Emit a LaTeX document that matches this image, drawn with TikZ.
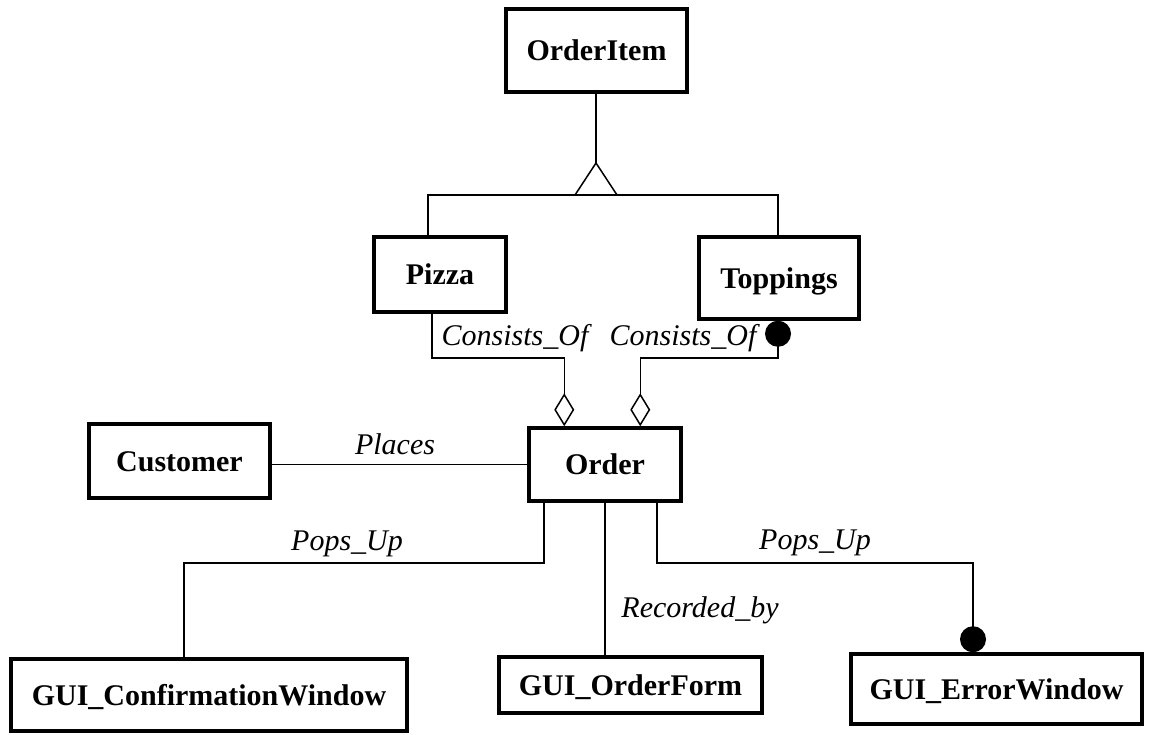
\documentclass[tikz,border=0pt]{standalone}
\usepackage{fontspec}
\setmainfont{Liberation Serif}
\usetikzlibrary{arrows.meta,calc}

\tikzset{
  classbox/.style={draw, line width=3.5pt, inner sep=0pt, anchor=center,
    font=\bfseries\fontsize{30}{36}\selectfont, text height=20pt, text depth=0pt},
  conn/.style={line width=1.5pt},
  rolelabel/.style={anchor=base, inner sep=0pt, font=\itshape\fontsize{30}{36}\selectfont},
  agg/.style={conn, -{Diamond[open, length=33pt, width=20pt, line width=1.5pt]}},
  dot/.style={Circle[length=26pt]}
}

\begin{document}
\begin{tikzpicture}[x=1pt, y=-1pt]
  \useasboundingbox (0,0) rectangle (1155,735);

  % classes
  \node[classbox, minimum width=181pt, minimum height=83pt] (OrderItem) at (596.5,50.5) {OrderItem};
  \node[classbox, minimum width=132pt, minimum height=75pt] (Pizza) at (440,274.5) {Pizza};
  \node[classbox, minimum width=160pt, minimum height=82pt] (Toppings) at (779,278) {Toppings};
  \node[classbox, minimum width=181pt, minimum height=74pt] (Customer) at (179.5,461) {Customer};
  \node[classbox, minimum width=152pt, minimum height=73pt] (Order) at (605,464.5) {Order};
  \node[classbox, minimum width=396pt, minimum height=72pt] (Confirm) at (209,695) {GUI\_ConfirmationWindow};
  \node[classbox, minimum width=263pt, minimum height=56pt] (OrderForm) at (630.5,685) {GUI\_OrderForm};
  \node[classbox, minimum width=291pt, minimum height=70pt] (ErrorWin) at (996.5,689) {GUI\_ErrorWindow};

  % routing points
  \coordinate (apex) at (596,163);
  \coordinate (genY) at (0,195);
  \coordinate (genL) at (428,0);
  \coordinate (genR) at (778,0);
  \coordinate (pzx) at (432,0);
  \coordinate (tpx) at (778,0);
  \coordinate (aggY) at (0,358);
  \coordinate (aggL) at ($(Order.north west)+(37,0)$);
  \coordinate (aggR) at ($(Order.north west)+(113,0)$);
  \coordinate (ox1) at (544,0);
  \coordinate (ox2) at (605,0);
  \coordinate (ox3) at (657,0);
  \coordinate (popY) at (0,563);
  \coordinate (cfx) at (184,0);
  \coordinate (erx) at (973,0);

  % generalization
  \draw[conn] (OrderItem.south -| apex) -- (apex);
  \draw[conn] (Pizza.north -| genL) -- (genY -| genL) -- (genY -| genR) -- (Toppings.north -| genR);
  \draw[conn, fill=white] (apex) -- ++(-21,32) -- ++(42,0) -- cycle;

  % aggregations
  \draw[agg] (Pizza.south -| pzx) |- (aggY -| aggL) -- (aggL);
  \draw[agg, {Circle[length=26pt]}-{Diamond[open, length=33pt, width=20pt, line width=1.5pt]}]
    (Toppings.south -| tpx) |- (aggY -| aggR) -- (aggR);
  \node[rolelabel] (lblC1) at (515,345) {Consists\_Of};
  \node[rolelabel] (lblC2) at (683,345) {Consists\_Of};

  % associations
  \draw[conn] (Order.west -| Customer.east) -- (Order.west);
  \node[rolelabel] (lblPlaces) at (395,454) {Places};

  \draw[conn] (Order.south -| ox1) |- (popY -| cfx) -- (Confirm.north -| cfx);
  \node[rolelabel] (lblPop1) at (347,550) {Pops\_Up};

  \draw[conn] (Order.south -| ox2) -- (OrderForm.north -| ox2);
  \node[rolelabel] (lblRec) at (700,617) {Recorded\_by};

  \draw[conn, -{Circle[length=26pt]}] (Order.south -| ox3) |- (popY -| erx) -- (ErrorWin.north -| erx);
  \node[rolelabel] (lblPop2) at (815,549) {Pops\_Up};
\end{tikzpicture}
\end{document}
